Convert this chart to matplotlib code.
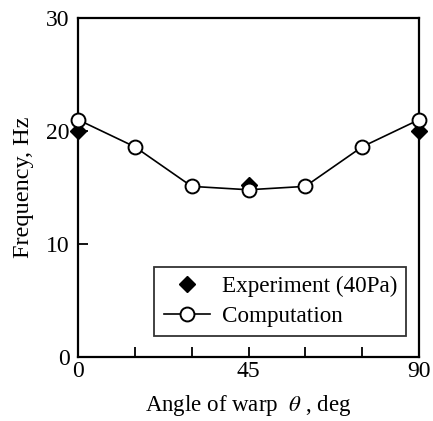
import numpy as np
import matplotlib.pyplot as plt

plt.rcParams['font.family'] = ['Liberation Serif', 'DejaVu Serif']
plt.rcParams['mathtext.fontset'] = 'stix'

angle_comp = [0, 15, 30, 45, 60, 75, 90]
freq_comp = [21.0, 18.6, 15.1, 14.8, 15.1, 18.6, 21.0]
angle_exp = [0, 45, 90]
freq_exp = [20.0, 15.2, 20.0]

fig = plt.figure(figsize=(4.33, 4.21), dpi=100)
ax = fig.add_axes([78 / 433, 1 - 357 / 421, 341 / 433, 339 / 421])

ax.plot(angle_exp, freq_exp, linestyle='none', marker='D', markersize=8.5,
        color='black', label='Experiment (40Pa)', clip_on=False, zorder=3)
ax.plot(angle_comp, freq_comp, color='black', linewidth=1.2, marker='o',
        markersize=10, markerfacecolor='white', markeredgecolor='black',
        markeredgewidth=1.4, label='Computation', clip_on=False, zorder=4)

ax.set_xlim(0, 90)
ax.set_ylim(0, 30)
ax.set_xticks([0, 45, 90])
ax.set_xticks([15, 30, 60, 75], minor=True)
ax.set_yticks([0, 10, 20, 30])
ax.tick_params(axis='both', which='both', direction='in', labelsize=17,
               width=1.3, top=False, right=False)
ax.tick_params(axis='both', which='major', length=7)
ax.tick_params(axis='x', which='minor', length=7)
ax.tick_params(axis='x', pad=3)
ax.tick_params(axis='y', pad=6)
for s in ax.spines.values():
    s.set_linewidth(1.6)

ax.set_xlabel(r'Angle of warp  $\theta$ , deg', fontsize=16.5, labelpad=8)
ax.set_ylabel('Frequency, Hz', fontsize=17.5, labelpad=9)

leg = ax.legend(loc='lower right', bbox_to_anchor=(0.963, 0.062), fontsize=16.7,
                frameon=True, fancybox=False, borderpad=0.4, handlelength=2.0,
                handletextpad=0.5, labelspacing=0.35, borderaxespad=0)
leg.get_frame().set_edgecolor('black')
leg.get_frame().set_linewidth(1.3)

fig.savefig('out.png', dpi=100)
